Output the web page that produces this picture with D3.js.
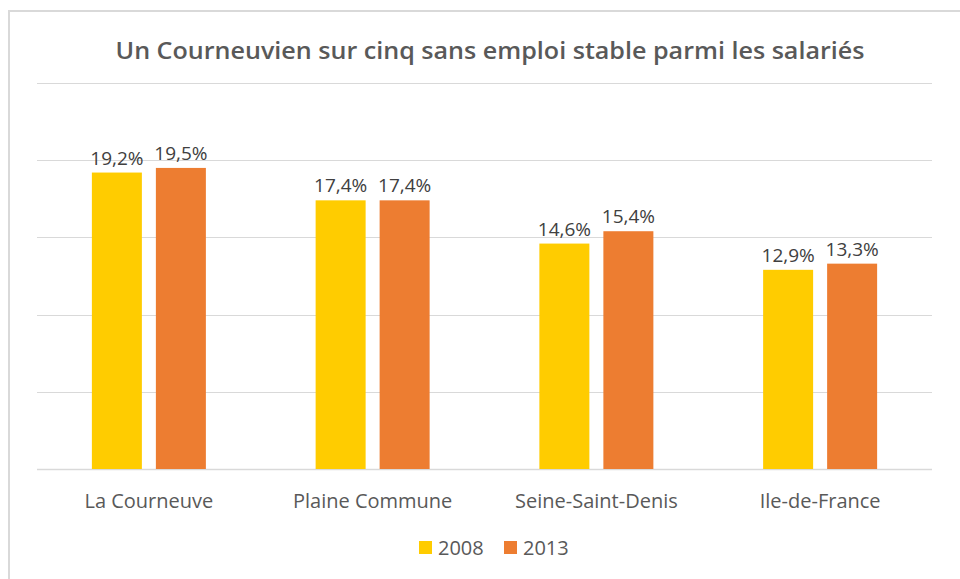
<!DOCTYPE html>
<html>
<head>
<meta charset="utf-8">
<script src="https://cdn.jsdelivr.net/npm/d3@7"></script>
<style>
  body { margin: 0; background: #fff; }
  svg text { font-family: "Open Sans", "Noto Sans", sans-serif; }
</style>
</head>
<body>
<div id="chart"></div>
<script>
const categories = ["La Courneuve", "Plaine Commune", "Seine-Saint-Denis", "Ile-de-France"];
const series = ["2008", "2013"];
const values2008 = [19.2, 17.4, 14.6, 12.9];
const values2013 = [19.5, 17.4, 15.4, 13.3];
const yTicks = [0, 5, 10, 15, 20, 25];
const titleText = "Un Courneuvien sur cinq sans emploi stable parmi les salariés";

const colors = { "2008": "#FFCC00", "2013": "#ED7D31" };
const valuesBySeries = { "2008": values2008, "2013": values2013 };

const width = 960, height = 579;
const plot = { left: 37, right: 932, top: 83, bottom: 469 };

const svg = d3.select("#chart")
  .append("svg")
  .attr("width", width)
  .attr("height", height);

// chart frame
svg.append("rect")
  .attr("x", 9)
  .attr("y", 11)
  .attr("width", 1000)
  .attr("height", 700)
  .attr("fill", "#fff")
  .attr("stroke", "#d9d9d9")
  .attr("stroke-width", 2);

const y = d3.scaleLinear().domain([0, 25]).range([plot.bottom, plot.top]);

const x0 = d3.scaleBand()
  .domain(categories)
  .range([plot.left, plot.right]);

const groupWidth = 114;
const x1 = d3.scaleBand()
  .domain(series)
  .range([0, groupWidth])
  .paddingInner(14 / 64);

// gridlines
svg.append("g")
  .selectAll("line")
  .data(yTicks)
  .enter()
  .append("line")
  .attr("x1", plot.left)
  .attr("x2", plot.right)
  .attr("y1", (d) => Math.round(y(d)) + 0.5)
  .attr("y2", (d) => Math.round(y(d)) + 0.5)
  .attr("stroke", "#d9d9d9")
  .attr("stroke-width", (d) => (d === 0 ? 1.6 : 1));

// title
svg.append("text")
  .attr("x", 490)
  .attr("y", 59)
  .attr("text-anchor", "middle")
  .attr("fill", "#595959")
  .attr("font-size", 24)
  .attr("font-weight", 600)
  .attr("textLength", 749)
  .attr("lengthAdjust", "spacingAndGlyphs")
  .text(titleText);

// bars
const rows = categories.map((c, i) => ({
  category: c,
  items: series.map((s) => ({ series: s, value: valuesBySeries[s][i] }))
}));

const groups = svg.append("g")
  .selectAll("g")
  .data(rows)
  .enter()
  .append("g")
  .attr("transform", (d) => `translate(${x0(d.category) + (x0.bandwidth() - groupWidth) / 2},0)`);

groups.selectAll("rect")
  .data((d) => d.items)
  .enter()
  .append("rect")
  .attr("x", (d) => x1(d.series))
  .attr("y", (d) => y(d.value))
  .attr("width", x1.bandwidth())
  .attr("height", (d) => y(0) - y(d.value))
  .attr("fill", (d) => colors[d.series]);

groups.selectAll("text")
  .data((d) => d.items)
  .enter()
  .append("text")
  .attr("x", (d) => x1(d.series) + x1.bandwidth() / 2)
  .attr("y", (d) => y(d.value) - 8)
  .attr("text-anchor", "middle")
  .attr("fill", "#404040")
  .attr("font-size", 19)
  .text((d) => d3.format(".1f")(d.value).replace(".", ",") + "%");

// category axis labels
const xAxis = d3.axisBottom(x0).tickSize(0).tickPadding(0);
const axisG = svg.append("g")
  .attr("transform", `translate(0,${plot.bottom})`)
  .call(xAxis);
axisG.select(".domain").remove();
axisG.selectAll("text")
  .attr("y", 39)
  .attr("dy", null)
  .attr("fill", "#595959")
  .attr("font-size", 20)
  .style("font-family", "'Open Sans', 'Noto Sans', sans-serif");

// legend
const legend = svg.append("g");
const legendX = [419, 504];
series.forEach((s, i) => {
  legend.append("rect")
    .attr("x", legendX[i])
    .attr("y", 541)
    .attr("width", 13)
    .attr("height", 13)
    .attr("fill", colors[s]);
  legend.append("text")
    .attr("x", legendX[i] + 19)
    .attr("y", 555)
    .attr("fill", "#595959")
    .attr("font-size", 20)
    .text(s);
});
</script>
</body>
</html>
